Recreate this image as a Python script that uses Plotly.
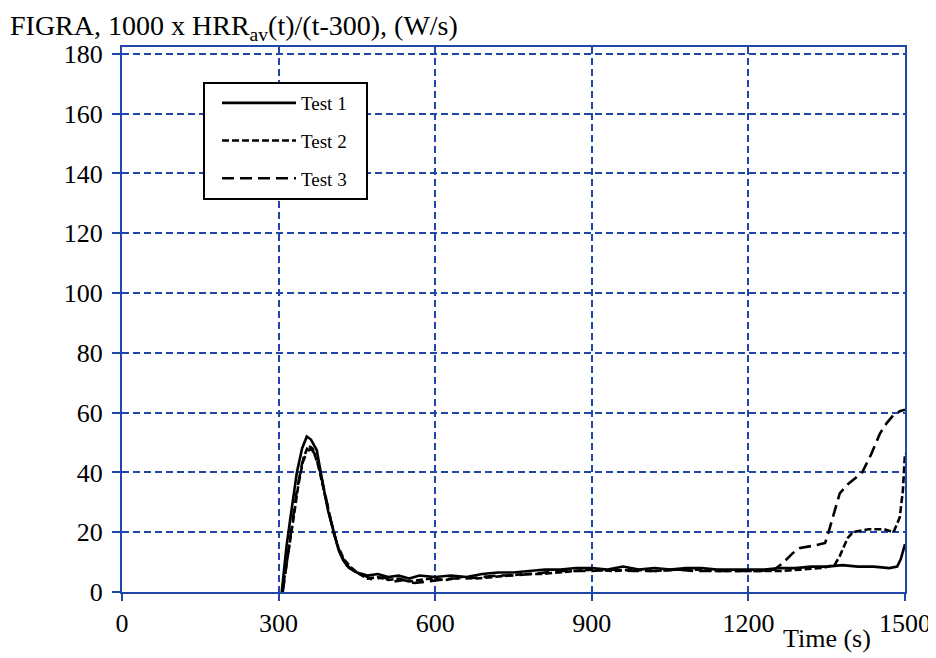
import plotly.graph_objects as go

# ---- data ----
t1 = [306, 315, 322, 335, 345, 354, 362, 373, 386, 395, 405, 415, 424, 435, 450, 470, 490, 510, 530, 550,
      570, 600, 630, 660, 690, 720, 750, 780, 810, 840, 870, 900, 930, 960, 990, 1020, 1050, 1080, 1110,
      1140, 1170, 1200, 1230, 1260, 1290, 1320, 1350, 1380, 1410, 1440, 1470, 1485, 1492, 1500]
v1 = [0, 15, 24, 40, 48, 52, 51, 47.5, 35, 27, 20.5, 14, 10.5, 8, 6.5, 5.5, 6, 5, 5.5, 4.5,
      5.5, 5, 5.5, 5, 6, 6.5, 6.5, 7, 7.5, 7.5, 8, 8, 7.5, 8.5, 7.5, 8, 7.5, 8, 8,
      7.5, 7.5, 7.5, 7.5, 8, 8, 8.5, 8.5, 9, 8.5, 8.5, 8, 8.5, 11, 16]

t2 = [307, 318, 328, 338, 348, 357, 365, 375, 388, 400, 412, 425, 440, 455, 470, 490, 510, 530, 550, 570,
      590, 620, 650, 680, 710, 740, 770, 800, 830, 860, 900, 940, 980, 1020, 1060, 1100, 1140, 1180,
      1220, 1260, 1300, 1340, 1365, 1375, 1390, 1400, 1430, 1460, 1478, 1490, 1496, 1500]
v2 = [0, 12, 24, 36, 45, 49, 48, 43, 33, 24, 16, 11, 8, 6, 4.5, 5, 4, 4.5, 3.5, 4,
      4.5, 4, 5, 4.5, 5, 5.5, 6, 6, 6.5, 7, 7.5, 7, 7.5, 7, 7.5, 7.5, 7, 7,
      7, 7, 7.5, 8, 9, 12, 18, 20, 21, 21, 20, 25, 34, 46.5]

t3 = [308, 316, 325, 335, 345, 355, 362, 370, 380, 392, 405, 418, 430, 445, 460, 480, 500, 520, 540, 560,
      580, 600, 630, 660, 690, 720, 750, 780, 810, 840, 870, 900, 940, 980, 1020, 1060, 1100, 1140,
      1180, 1220, 1250, 1266, 1285, 1299, 1325, 1347, 1353, 1365, 1375, 1390, 1404, 1418, 1435, 1452,
      1465, 1477, 1490, 1500]
v3 = [0, 10, 22, 34, 43, 47, 48, 46, 40, 30, 20, 13, 9, 7, 6, 4, 5, 3.5, 4, 3,
      3.5, 4, 4.5, 4.5, 5, 5.5, 5.5, 6, 6.5, 7, 7, 7, 7.5, 7, 7, 7.5, 7, 7,
      7, 7, 7.5, 9.7, 13, 14.7, 15.5, 16.4, 19.7, 27, 33, 36, 38, 40, 46, 53,
      56.5, 59, 60.5, 61]

names = ["Test 1", "Test 2", "Test 3"]
x_ticks = [0, 300, 600, 900, 1200, 1500]
y_ticks = [0, 20, 40, 60, 80, 100, 120, 140, 160, 180]

BLUE = "#1f46a8"
FONT = "Liberation Serif"

W, H = 928, 650
L, T, PW, PH = 114, 39, 783, 545

fig = go.Figure()
series = [(t1, v1, "solid"), (t2, v2, "7px,3px"), (t3, v3, "12px,6px")]
for (tx, vy, dash), nm in zip(series, names):
    fig.add_trace(go.Scatter(x=tx, y=vy, mode="lines", name=nm + "&nbsp;&nbsp;&nbsp;", legendgroup=nm,
                             line=dict(color="black", width=2.6, dash=dash)))

fig.update_layout(
    width=W, height=H,
    margin=dict(l=L, r=W - L - PW, t=T, b=H - T - PH, autoexpand=False),
    paper_bgcolor="white", plot_bgcolor="white",
    font=dict(family=FONT, color="black", size=26),
    showlegend=True,
    legend=dict(x=(203 - 122) / PW, y=1 - (82 - 47) / PH, xanchor="left", yanchor="top",
                bordercolor="black", borderwidth=2, bgcolor="white",
                font=dict(family=FONT, size=19, color="black"),
                itemwidth=74, tracegroupgap=10, indentation=12,
                traceorder="grouped"),
    xaxis=dict(range=[0, 1500], tickvals=x_ticks, ticktext=[str(v) for v in x_ticks],
               showgrid=True, gridcolor=BLUE, griddash="7px,4px", gridwidth=1.8,
               showline=True, linecolor=BLUE, linewidth=2, mirror=True,
               ticks="outside", ticklen=7, tickcolor=BLUE, tickwidth=1.8,
               zeroline=False, tickfont=dict(family=FONT, size=26)),
    yaxis=dict(range=[0, 182.3], tickvals=y_ticks,
               showgrid=True, gridcolor=BLUE, griddash="7px,4px", gridwidth=1.8,
               showline=True, linecolor=BLUE, linewidth=2, mirror=True,
               ticks="outside", ticklen=8, tickcolor=BLUE, tickwidth=1.8,
               ticklabelstandoff=4,
               zeroline=False, tickfont=dict(family=FONT, size=26)),
)

fig.add_annotation(xref="paper", yref="paper", x=-L / PW, y=1 + T / PH, xanchor="left", yanchor="top",
                   text="FIGRA, 1000 x HRR<sub>av</sub>(t)/(t-300), (W/s)", showarrow=False,
                   font=dict(family=FONT, size=28, color="black"))
fig.add_annotation(xref="paper", yref="paper", x=(827 - 122) / PW, y=-46 / PH, xanchor="center", yanchor="middle",
                   text="Time (s)", showarrow=False,
                   font=dict(family=FONT, size=26, color="black"))

fig.write_html("out.html")
